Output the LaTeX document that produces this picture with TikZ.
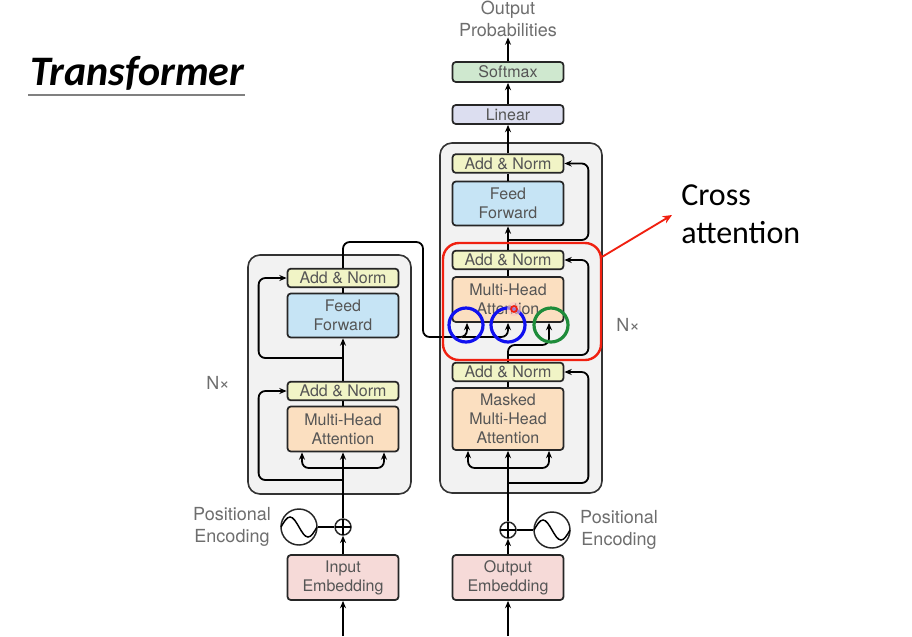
\documentclass[tikz,border=0pt]{standalone}
\usepackage{fontspec}
\setmainfont{TeX Gyre Heros}
\newfontfamily\calib{Carlito}
\usetikzlibrary{arrows.meta,calc}
\definecolor{txtgray}{HTML}{555555}
\definecolor{sidegray}{HTML}{6E6E6E}
\definecolor{boxgray}{HTML}{F2F2F2}
\definecolor{cAN}{HTML}{F1F4C6}
\definecolor{cFF}{HTML}{C6E4F5}
\definecolor{cMHA}{HTML}{FBDFC0}
\definecolor{cLin}{HTML}{DCDEF0}
\definecolor{cSoft}{HTML}{CFE8CF}
\definecolor{cEmb}{HTML}{F6DAD8}
\definecolor{cBlue}{HTML}{1010F0}
\definecolor{cGreen}{HTML}{1E8C3A}
\definecolor{cRed}{HTML}{F02010}
\begin{document}
\begin{tikzpicture}[x=0.75pt,y=-0.75pt,
  blk/.style={draw=black!85, line width=1.3pt, rounded corners=2.5pt, minimum width=83.25pt, inner sep=0pt, align=center, text=txtgray, font=\fontsize{12}{14.25}\selectfont},
  anbox/.style={blk, fill=cAN, minimum height=14pt},
  ffbox/.style={blk, fill=cFF, minimum height=33pt},
  mhabox/.style={blk, fill=cMHA, minimum height=33.75pt},
  linbox/.style={blk, fill=cLin, minimum height=14.25pt},
  softbox/.style={blk, fill=cSoft, minimum height=15pt},
  embbox/.style={blk, fill=cEmb, minimum height=33.75pt},
  outerbox/.style={draw=black!80, line width=1.2pt, fill=boxgray, rounded corners=9pt, inner sep=0pt},
  lbl/.style={text=sidegray, align=center, inner sep=0pt, font=\fontsize{13.5}{17}\selectfont},
  arr/.style={-{Stealth[length=5.5pt,width=4.5pt]}, line width=1.35pt},
  ln/.style={line width=1.35pt},
  rc/.style={rounded corners=5pt},
  plusnode/.style={circle, draw=black!85, line width=1.1pt, minimum size=12pt, inner sep=0pt},
  sinnode/.style={circle, draw=black!85, line width=1.1pt, minimum size=27pt, inner sep=0pt},
  bluec/.style={circle, draw=cBlue, line width=2.4pt, minimum size=25.5pt, inner sep=0pt},
  greenc/.style={circle, draw=cGreen, line width=2.4pt, minimum size=25.5pt, inner sep=0pt}
]
\useasboundingbox (0,0) rectangle (912,636);
\fill[white] (0,0) rectangle (912,636);

% title
\node[anchor=base west, inner sep=0pt, font=\calib\bfseries\itshape\fontsize{31.5}{36}\selectfont] (title) at (30,85) {Transformer};
\coordinate (ul1) at (28,95);
\coordinate (ul2) at (245,95);
\draw[gray, line width=1.1pt] (ul1) -- (ul2);

% outer boxes
\node[outerbox, minimum width=122.25pt, minimum height=179.25pt] (enc) at (329.5,374.5) {};
\node[outerbox, minimum width=121.5pt, minimum height=262.5pt] (dec) at (521,318) {};

% encoder blocks
\node[anbox] (eAN2) at (343,278) {Add \& Norm};
\node[ffbox] (eFF) at (343,315.5) {Feed\\Forward};
\node[anbox] (eAN1) at (343,391) {Add \& Norm};
\node[mhabox] (eMHA) at (343,429) {Multi-Head\\Attention};
\node[embbox] (eIE) at (343,577.5) {Input\\Embedding};
\node[plusnode] (eplus) at (343,527) {};
\node[sinnode] (esin) at (299,527) {};
\draw[line width=1.1pt] ($(eplus.center)+(-8,0)$) -- ($(eplus.center)+(8,0)$) ($(eplus.center)+(0,-8)$) -- ($(eplus.center)+(0,8)$);
\draw[line width=1.1pt] (281,527) sin (290,517) cos (299,527) sin (308,537) cos (317,527);

% decoder blocks
\node[anbox] (dAN3) at (508,163.5) {Add \& Norm};
\node[ffbox] (dFF) at (508,203.5) {Feed\\Forward};
\node[anbox] (dAN2) at (508,260) {Add \& Norm};
\node[mhabox] (dMHA) at (508,299.5) {Multi-Head\\Attention};
\node[anbox] (dAN1) at (508,372) {Add \& Norm};
\node[mhabox, minimum height=46.5pt] (dMMHA) at (508,419) {Masked\\Multi-Head\\Attention};
\node[embbox] (dOE) at (508,577.5) {Output\\Embedding};
\node[plusnode] (dplus) at (508,530) {};
\node[sinnode] (dsin) at (552,530) {};
\draw[line width=1.1pt] ($(dplus.center)+(-8,0)$) -- ($(dplus.center)+(8,0)$) ($(dplus.center)+(0,-8)$) -- ($(dplus.center)+(0,8)$);
\draw[line width=1.1pt] (534,530) sin (543,520) cos (552,530) sin (561,540) cos (570,530);
\node[linbox] (lin) at (508,114.5) {Linear};
\node[softbox] (soft) at (508,72) {Softmax};

% labels
\node[lbl] (outprob) at (508,19) {Output\\Probabilities};
\node[lbl] (pe1) at (232,527) {Positional\\Encoding};
\node[lbl] (pe2) at (619,530) {Positional\\Encoding};
\node[lbl] (nx1) at (218,383) {N×};
\node[lbl] (nx2) at (628,325) {N×};

% encoder connectors
\coordinate (ein) at (343,636);
\draw[arr] (ein) -- (eIE.south);
\draw[arr] (eIE.north) -- (eplus.south);
\draw[ln] (esin.east) -- (eplus.west);
\draw[arr] (eplus.north) -- (eMHA.south);
\coordinate (esplit) at (343,468);
\draw[arr,rc] (esplit) -| ($(eMHA.south)+(-41,0)$);
\draw[arr,rc] (esplit) -| ($(eMHA.south)+(41,0)$);
\coordinate (eres1) at (343,480);
\draw[arr,rc] (eres1) -| ($(eAN1.west)+(-28,0)$) -- (eAN1.west);
\draw[ln] (eMHA.north) -- (eAN1.south);
\draw[arr] (eAN1.north) -- (eFF.south);
\coordinate (eres2) at (343,358);
\draw[arr,rc] (eres2) -| ($(eAN2.west)+(-28,0)$) -- (eAN2.west);
\draw[ln] (eFF.north) -- (eAN2.south);
\coordinate (eo1) at (343,242);
\coordinate (eo2) at (423,242);
\coordinate (eo3) at (423,337);
\draw[arr,rc] (eAN2.north) -- (eo1) -- (eo2) -- (eo3) -| ($(dMHA.south)+(-41,0)$);
\coordinate (eo4) at (462,337);
\draw[arr,rc] (eo4) -| (dMHA.south);

% decoder connectors
\coordinate (din) at (508,636);
\draw[arr] (din) -- (dOE.south);
\draw[arr] (dOE.north) -- (dplus.south);
\draw[ln] (dsin.west) -- (dplus.east);
\draw[arr] (dplus.north) -- (dMMHA.south);
\coordinate (dsplit) at (508,468);
\draw[arr,rc] (dsplit) -| ($(dMMHA.south)+(-40,0)$);
\draw[arr,rc] (dsplit) -| ($(dMMHA.south)+(41,0)$);
\coordinate (dres1) at (508,483);
\draw[arr,rc] (dres1) -| ($(dAN1.east)+(24,0)$) -- (dAN1.east);
\draw[ln] (dMMHA.north) -- (dAN1.south);
\coordinate (dq) at (508,345);
\draw[arr,rc] (dAN1.north) -- (dq) -| ($(dMHA.south)+(41,0)$);
\coordinate (dres2) at (508,355);
\draw[arr,rc] (dres2) -| ($(dAN2.east)+(24,0)$) -- (dAN2.east);
\draw[ln] (dMHA.north) -- (dAN2.south);
\draw[arr] (dAN2.north) -- (dFF.south);
\coordinate (dres3) at (508,240);
\draw[arr,rc] (dres3) -| ($(dAN3.east)+(24,0)$) -- (dAN3.east);
\draw[ln] (dFF.north) -- (dAN3.south);
\draw[arr] (dAN3.north) -- (lin.south);
\draw[arr] (lin.north) -- (soft.south);
\draw[arr] (soft.north) -- (outprob.south);

% annotations
\node[draw=cRed, line width=1.8pt, rounded corners=12pt, minimum width=118.5pt, minimum height=87.75pt, inner sep=0pt] (redbox) at (522,301.5) {};
\coordinate (crossarr) at (672,215);
\draw[cRed, line width=1.4pt, -{Stealth[length=7pt,width=6pt]}] ($(redbox.north east)+(0,15)$) -- (crossarr);
\node[anchor=north west, align=left, inner sep=0pt, font=\calib\fontsize{24}{29}\selectfont] (cross) at (681,184) {Cross\\attention};
\node[bluec] (c1) at (466,325) {};
\node[bluec] (c2) at (508,325) {};
\node[greenc] (c3) at (551,325) {};
\fill[cRed!25, opacity=0.6] (514,309) circle (7);
\node[circle, draw=cRed, line width=1.3pt, minimum size=4.5pt, inner sep=0pt] (dot) at (514,309) {};
\end{tikzpicture}
\end{document}
